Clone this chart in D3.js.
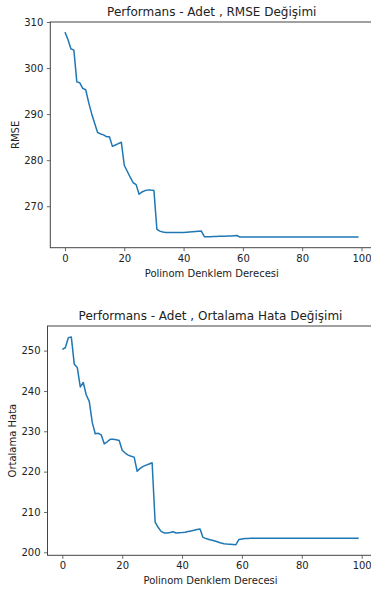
<!DOCTYPE html>
<html><head><meta charset="utf-8">
<script src="https://cdn.jsdelivr.net/npm/d3@7"></script>
<style>
html,body{margin:0;padding:0;background:#fff;overflow:hidden}
svg{display:block;font-family:"DejaVu Sans",sans-serif}
</style></head><body>
<svg id="c" width="371" height="590"></svg>
<script>
const degrees = d3.range(0, 100);
const rmseValues = [
307.8,306.2,304.2,303.9,297.0,296.8,295.6,295.3,292.5,290.1,
288.0,286.0,285.7,285.5,285.1,285.1,283.0,283.3,283.6,283.9,
278.9,277.6,276.3,275.1,274.7,272.6,273.1,273.4,273.5,273.5,
273.4,265.0,264.6,264.4,264.3,264.3,264.3,264.3,264.3,264.3,
264.3,264.35,264.4,264.45,264.5,264.55,264.6,263.4,263.4,263.4,
263.42,263.44,263.46,263.48,263.5,263.52,263.55,263.6,263.65,263.3,
263.3,263.3,263.3,263.3,263.3,263.3,263.3,263.3,263.3,263.3,
263.3,263.3,263.3,263.3,263.3,263.3,263.3,263.3,263.3,263.3,
263.3,263.3,263.3,263.3,263.3,263.3,263.3,263.3,263.3,263.3,
263.3,263.3,263.3,263.3,263.3,263.3,263.3,263.3,263.3,263.3];
const maeValues = [
250.3,250.7,253.2,253.4,246.6,245.8,241.0,242.1,239.0,237.4,
232.2,229.4,229.5,229.1,226.9,227.4,228.0,228.0,227.9,227.7,
225.3,224.6,224.1,223.8,223.6,220.1,220.8,221.3,221.6,221.9,
222.2,207.5,206.2,205.2,204.8,204.8,204.9,205.1,204.8,204.85,
204.9,205.0,205.15,205.3,205.45,205.65,205.8,203.7,203.4,203.2,
203.0,202.8,202.55,202.3,202.15,202.05,202.0,201.95,201.9,203.2,
203.3,203.4,203.45,203.5,203.5,203.5,203.5,203.5,203.5,203.5,
203.5,203.5,203.5,203.5,203.5,203.5,203.5,203.5,203.5,203.5,
203.5,203.5,203.5,203.5,203.5,203.5,203.5,203.5,203.5,203.5,
203.5,203.5,203.5,203.5,203.5,203.5,203.5,203.5,203.5,203.5];
const xTicks = [0,20,40,60,80,100];
const rmseTicks = [270,280,290,300,310];
const maeTicks = [200,210,220,230,240,250];
const titles = ["Performans - Adet , RMSE Değişimi","Performans - Adet , Ortalama Hata Değişimi"];
const yLabels = ["RMSE","Ortalama Hata"];
const xLabel = "Polinom Denklem Derecesi";

const svg = d3.select("#c");
function panel(cfg){
  const g = svg.append("g");
  const x = d3.scaleLinear().domain([-4.95,103.95]).range([cfg.left, cfg.right]);
  const y = d3.scaleLinear().domain(cfg.ydom).range([cfg.bottom, cfg.top]);
  const line = d3.line().x((d,i)=>x(degrees[i])).y(d=>y(d));
  g.append("path").datum(cfg.values).attr("d",line)
    .attr("fill","none").attr("stroke","#1f77b4").attr("stroke-width",1.5)
    .attr("stroke-linejoin","round");
  const ax = g.append("g").attr("transform",`translate(0,${cfg.bottom})`)
    .call(d3.axisBottom(x).tickValues(xTicks).tickSize(3.5).tickPadding(3.5).tickFormat(d3.format("d")));
  const ay = g.append("g").attr("transform",`translate(${cfg.left},0)`)
    .call(d3.axisLeft(y).tickValues(cfg.ticks).tickSize(3.5).tickPadding(3.5).tickFormat(d3.format("d")));
  [ax,ay].forEach(a=>{
    a.select(".domain").remove();
    a.selectAll("line").attr("stroke","#444").attr("stroke-width",0.8);
    a.selectAll("text").attr("font-size",10).attr("fill","#222").attr("font-family","DejaVu Sans");
  });
  g.append("rect").attr("x",cfg.left).attr("y",cfg.top)
    .attr("width",cfg.right-cfg.left).attr("height",cfg.bottom-cfg.top)
    .attr("fill","none").attr("stroke","#444").attr("stroke-width",1);
  g.append("text").attr("x",(cfg.left+cfg.right)/2).attr("y",cfg.top-6)
    .attr("text-anchor","middle").attr("font-size",12).attr("fill","#222").text(cfg.title);
  g.append("text").attr("x",(cfg.left+cfg.right)/2).attr("y",cfg.bottom+29)
    .attr("text-anchor","middle").attr("font-size",10).attr("fill","#222").text(xLabel);
  g.append("text").attr("transform",`translate(${cfg.ylx},${(cfg.top+cfg.bottom)/2}) rotate(-90)`)
    .attr("text-anchor","middle").attr("font-size",10).attr("fill","#222").text(cfg.ylabel);
}
panel({left:50.3,right:373.2,top:22,bottom:247.7,ydom:[261.0,310.0],values:rmseValues,ticks:rmseTicks,title:titles[0],ylabel:yLabels[0],ylx:18.5});
panel({left:47.5,right:373.5,top:326,bottom:555.3,ydom:[199.26,256.1],values:maeValues,ticks:maeTicks,title:titles[1],ylabel:yLabels[1],ylx:15.5});
</script></body></html>
